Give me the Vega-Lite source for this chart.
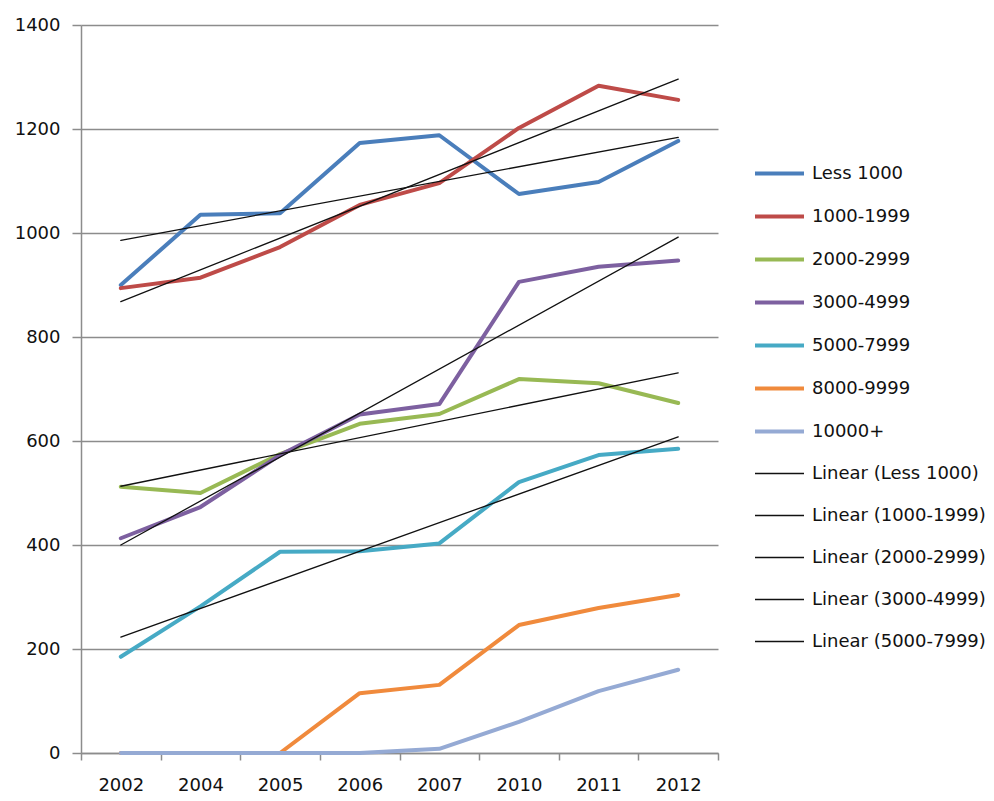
{
  "$schema": "https://vega.github.io/schema/vega-lite/v6.json",
  "width": 637,
  "height": 728,
  "padding": {"left": 81, "top": 25, "right": 276, "bottom": 48},
  "autosize": {"type": "none"},
  "background": "white",
  "config": {
    "view": {"stroke": null},
    "font": "DejaVu Sans",
    "axis": {
      "labelFont": "DejaVu Sans",
      "labelFontSize": 18,
      "labelColor": "#111111",
      "gridColor": "#8c8c8c",
      "gridWidth": 1.3,
      "domainColor": "#8c8c8c",
      "domainWidth": 1.5,
      "tickColor": "#8c8c8c",
      "tickWidth": 1.5,
      "title": null
    },
    "legend": {
      "labelFont": "DejaVu Sans",
      "labelFontSize": 18,
      "labelColor": "#111111",
      "labelLimit": 0
    }
  },
  "data": {
    "values": [
      {"year": "2002", "series": "Less 1000", "value": 900},
      {"year": "2004", "series": "Less 1000", "value": 1035},
      {"year": "2005", "series": "Less 1000", "value": 1038},
      {"year": "2006", "series": "Less 1000", "value": 1173},
      {"year": "2007", "series": "Less 1000", "value": 1188},
      {"year": "2010", "series": "Less 1000", "value": 1075},
      {"year": "2011", "series": "Less 1000", "value": 1098},
      {"year": "2012", "series": "Less 1000", "value": 1177},
      {"year": "2002", "series": "1000-1999", "value": 894},
      {"year": "2004", "series": "1000-1999", "value": 914},
      {"year": "2005", "series": "1000-1999", "value": 973},
      {"year": "2006", "series": "1000-1999", "value": 1054},
      {"year": "2007", "series": "1000-1999", "value": 1096},
      {"year": "2010", "series": "1000-1999", "value": 1202},
      {"year": "2011", "series": "1000-1999", "value": 1283},
      {"year": "2012", "series": "1000-1999", "value": 1256},
      {"year": "2002", "series": "2000-2999", "value": 512},
      {"year": "2004", "series": "2000-2999", "value": 500},
      {"year": "2005", "series": "2000-2999", "value": 575},
      {"year": "2006", "series": "2000-2999", "value": 633},
      {"year": "2007", "series": "2000-2999", "value": 652},
      {"year": "2010", "series": "2000-2999", "value": 719},
      {"year": "2011", "series": "2000-2999", "value": 711},
      {"year": "2012", "series": "2000-2999", "value": 673},
      {"year": "2002", "series": "3000-4999", "value": 413},
      {"year": "2004", "series": "3000-4999", "value": 473},
      {"year": "2005", "series": "3000-4999", "value": 573},
      {"year": "2006", "series": "3000-4999", "value": 651},
      {"year": "2007", "series": "3000-4999", "value": 671},
      {"year": "2010", "series": "3000-4999", "value": 906},
      {"year": "2011", "series": "3000-4999", "value": 935},
      {"year": "2012", "series": "3000-4999", "value": 947},
      {"year": "2002", "series": "5000-7999", "value": 185},
      {"year": "2004", "series": "5000-7999", "value": 282},
      {"year": "2005", "series": "5000-7999", "value": 387},
      {"year": "2006", "series": "5000-7999", "value": 388},
      {"year": "2007", "series": "5000-7999", "value": 403},
      {"year": "2010", "series": "5000-7999", "value": 521},
      {"year": "2011", "series": "5000-7999", "value": 573},
      {"year": "2012", "series": "5000-7999", "value": 585},
      {"year": "2002", "series": "8000-9999", "value": 0},
      {"year": "2004", "series": "8000-9999", "value": 0},
      {"year": "2005", "series": "8000-9999", "value": 0},
      {"year": "2006", "series": "8000-9999", "value": 115},
      {"year": "2007", "series": "8000-9999", "value": 131},
      {"year": "2010", "series": "8000-9999", "value": 246},
      {"year": "2011", "series": "8000-9999", "value": 279},
      {"year": "2012", "series": "8000-9999", "value": 304},
      {"year": "2002", "series": "10000+", "value": 0},
      {"year": "2004", "series": "10000+", "value": 0},
      {"year": "2005", "series": "10000+", "value": 0},
      {"year": "2006", "series": "10000+", "value": 0},
      {"year": "2007", "series": "10000+", "value": 8},
      {"year": "2010", "series": "10000+", "value": 60},
      {"year": "2011", "series": "10000+", "value": 119},
      {"year": "2012", "series": "10000+", "value": 160},
      {"year": "2002", "series": "Linear (Less 1000)", "value": 986},
      {"year": "2012", "series": "Linear (Less 1000)", "value": 1184},
      {"year": "2002", "series": "Linear (1000-1999)", "value": 868},
      {"year": "2012", "series": "Linear (1000-1999)", "value": 1296},
      {"year": "2002", "series": "Linear (2000-2999)", "value": 513},
      {"year": "2012", "series": "Linear (2000-2999)", "value": 731},
      {"year": "2002", "series": "Linear (3000-4999)", "value": 400},
      {"year": "2012", "series": "Linear (3000-4999)", "value": 992},
      {"year": "2002", "series": "Linear (5000-7999)", "value": 223},
      {"year": "2012", "series": "Linear (5000-7999)", "value": 608}
    ]
  },
  "mark": {"type": "line", "strokeCap": "round", "strokeJoin": "round"},
  "encoding": {
    "x": {
      "field": "year",
      "type": "ordinal",
      "scale": {"type": "band", "paddingInner": 0, "paddingOuter": 0, "domain": ["2002", "2004", "2005", "2006", "2007", "2010", "2011", "2012"]},
      "axis": {"labelAngle": 0, "tickBand": "extent", "grid": false, "tickSize": 7, "labelPadding": 16}
    },
    "y": {
      "field": "value",
      "type": "quantitative",
      "scale": {"domain": [0, 1400], "nice": false},
      "axis": {"values": [0, 200, 400, 600, 800, 1000, 1200, 1400], "format": "d", "tickSize": 9, "labelPadding": 12, "grid": true}
    },
    "color": {
      "field": "series",
      "type": "nominal",
      "scale": {
        "domain": ["Less 1000", "1000-1999", "2000-2999", "3000-4999", "5000-7999", "8000-9999", "10000+", "Linear (Less 1000)", "Linear (1000-1999)", "Linear (2000-2999)", "Linear (3000-4999)", "Linear (5000-7999)"],
        "range": ["#4A7EBB", "#BE4B48", "#98B954", "#7D60A0", "#46AAC5", "#F08A3C", "#95AAD4", "#111111", "#111111", "#111111", "#111111", "#111111"]
      },
      "legend": {
        "title": null,
        "orient": "none",
        "legendX": 672,
        "legendY": 122,
        "symbolType": "stroke",
        "symbolSize": 2401,
        "rowPadding": 7,
        "labelOffset": 6
      }
    },
    "strokeWidth": {
      "field": "series",
      "type": "nominal",
      "scale": {
        "type": "ordinal",
        "domain": ["Less 1000", "1000-1999", "2000-2999", "3000-4999", "5000-7999", "8000-9999", "10000+", "Linear (Less 1000)", "Linear (1000-1999)", "Linear (2000-2999)", "Linear (3000-4999)", "Linear (5000-7999)"],
        "range": [4, 4, 4, 4, 4, 4, 4, 1.3, 1.3, 1.3, 1.3, 1.3]
      },
      "legend": {
        "title": null,
        "orient": "none",
        "legendX": 672,
        "legendY": 122,
        "symbolType": "stroke",
        "symbolSize": 2401,
        "rowPadding": 7,
        "labelOffset": 6
      }
    }
  }
}
